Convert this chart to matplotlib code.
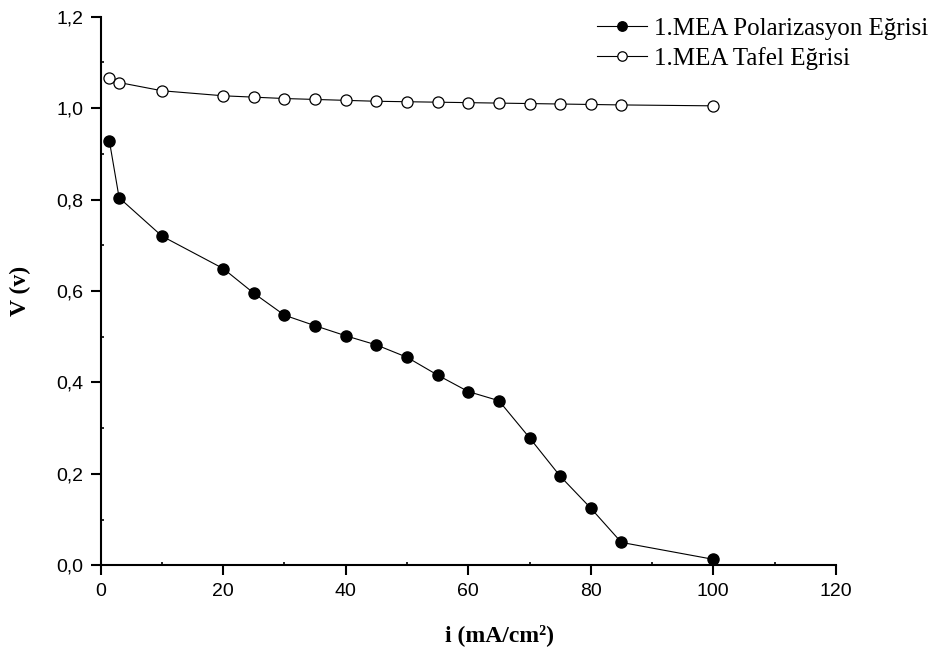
import matplotlib
matplotlib.use("Agg")
import matplotlib.pyplot as plt
from matplotlib.ticker import MultipleLocator, FuncFormatter

# Current density (mA/cm^2) and cell voltage (V)
current = [1.4, 3, 10, 20, 25, 30, 35, 40, 45, 50, 55, 60, 65, 70, 75, 80, 85, 100]
v_polarization = [0.929, 0.804, 0.720, 0.649, 0.595, 0.547, 0.524, 0.502, 0.482,
                  0.455, 0.416, 0.380, 0.360, 0.279, 0.195, 0.125, 0.050, 0.013]
v_tafel = [1.067, 1.056, 1.038, 1.027, 1.024, 1.021, 1.019, 1.017, 1.015,
           1.014, 1.013, 1.012, 1.011, 1.010, 1.009, 1.008, 1.007, 1.005]

label_pol = "1.MEA Polarizasyon Eğrisi"
label_tafel = "1.MEA Tafel Eğrisi"

sans = ["Liberation Sans", "DejaVu Sans"]
serif = ["Liberation Serif", "DejaVu Serif"]

fig = plt.figure(figsize=(9.38, 6.55), dpi=100)
ax = fig.add_axes([0.1074, 0.137, 0.7836, 0.8375])

ax.plot(current, v_polarization, color="black", lw=0.8, marker="o", ms=8,
        mfc="black", mec="black", label=label_pol, zorder=3)
ax.plot(current, v_tafel, color="black", lw=0.8, marker="o", ms=8,
        mfc="white", mec="black", mew=0.9, label=label_tafel, zorder=3)

ax.set_xlim(0, 120)
ax.set_ylim(0, 1.2)
ax.xaxis.set_major_locator(MultipleLocator(20))
ax.xaxis.set_minor_locator(MultipleLocator(10))
ax.yaxis.set_major_locator(MultipleLocator(0.2))
ax.yaxis.set_minor_locator(MultipleLocator(0.1))
ax.yaxis.set_major_formatter(FuncFormatter(lambda v, p: f"{v:.1f}".replace(".", ",")))

for side in ("top", "right"):
    ax.spines[side].set_visible(False)
for side in ("left", "bottom"):
    ax.spines[side].set_linewidth(1.5)

ax.tick_params(which="major", direction="out", length=7, width=1.5, pad=5.5,
               labelsize=14)
ax.tick_params(which="minor", direction="in", length=2.5, width=1.2)
for lbl in ax.get_xticklabels() + ax.get_yticklabels():
    lbl.set_family(sans)

ax.set_xlabel("i (mA/cm²)", family=serif, fontsize=17, fontweight="bold")
ax.xaxis.set_label_coords(0.543, -0.108)
ax.set_ylabel("V (v)", family=serif, fontsize=17, fontweight="bold",
              labelpad=18)

leg = ax.legend(loc="upper right", bbox_to_anchor=(0.999, 0.987),
                bbox_transform=fig.transFigure, frameon=False,
                prop={"family": serif, "size": 18}, handlelength=2.0,
                handletextpad=0.3, labelspacing=0.3, markerscale=0.85,
                borderaxespad=0.0, borderpad=0.35)

fig.savefig("out.png", dpi=100)
